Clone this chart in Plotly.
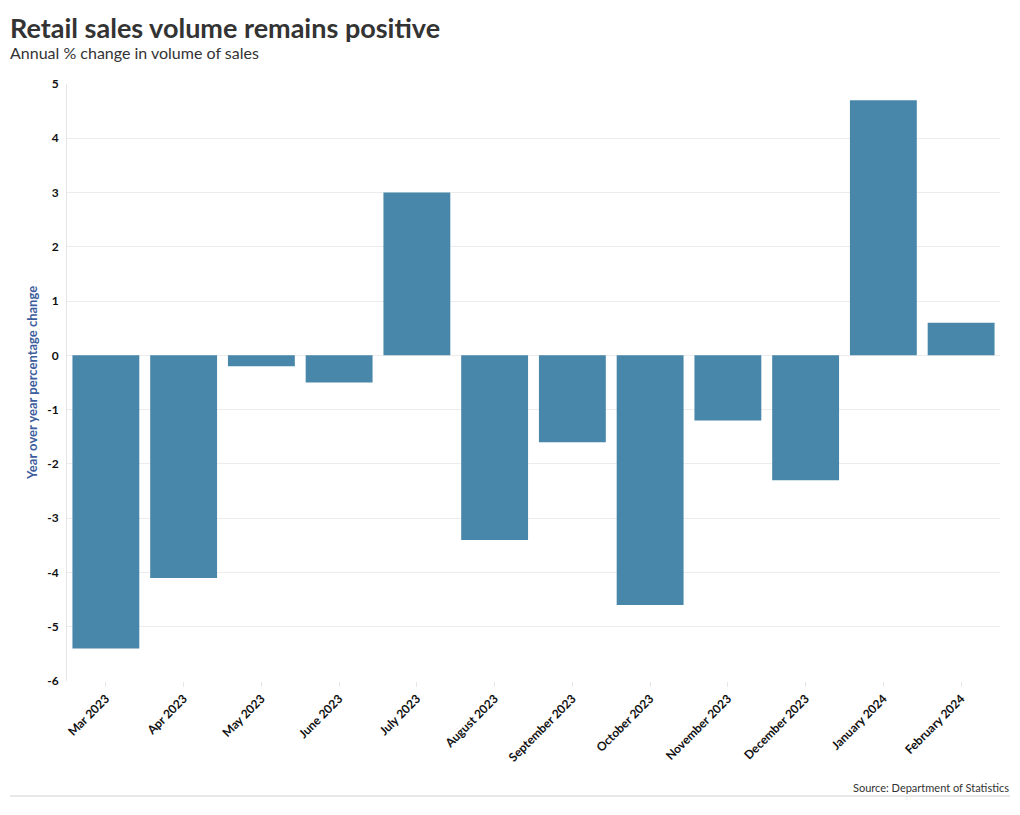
import plotly.graph_objects as go

months = ["Mar 2023", "Apr 2023", "May 2023", "June 2023", "July 2023", "August 2023",
          "September 2023", "October 2023", "November 2023", "December 2023",
          "January 2024", "February 2024"]
values = [-5.4, -4.1, -0.2, -0.5, 3.0, -3.4, -1.6, -4.6, -1.2, -2.3, 4.7, 0.6]
y_ticks = [5, 4, 3, 2, 1, 0, -1, -2, -3, -4, -5, -6]
y_tick_labels = ["5", "4", "3", "2", "1", "0", "-1", "-2", "-3", "-4", "-5", "-6"]

FONT = "Source Sans Pro, Lato, Noto Sans, sans-serif"

fig = go.Figure(go.Bar(
    x=months, y=values,
    marker=dict(color="#4886aa", line=dict(width=0)),
    hovertemplate="%{x}: %{y}<extra></extra>",
))

fig.update_layout(
    width=1020, height=815,
    margin=dict(l=67, r=20, t=84, b=134),
    paper_bgcolor="white", plot_bgcolor="white",
    bargap=0.14,
    showlegend=False,
    font=dict(family=FONT, color="#222"),
    xaxis=dict(
        tickangle=-45,
        tickfont=dict(family=FONT, size=12, color="#111", weight="bold"),
        ticks="outside", ticklen=5, tickcolor="#e6e6e6",
        showgrid=False, showline=False, zeroline=False,
        fixedrange=True,
    ),
    yaxis=dict(
        range=[-6, 5],
        tickvals=y_ticks, ticktext=y_tick_labels,
        tickfont=dict(family=FONT, size=12, color="#111", weight="bold"),
        showgrid=True, gridcolor="#ececec", gridwidth=1,
        zeroline=False, showline=True, linecolor="#e6e6e6", linewidth=1,
        ticks="outside", ticklen=5, tickcolor="rgba(0,0,0,0)",
        title=dict(text="Year over year percentage change",
                   font=dict(family=FONT, size=13, color="#3d5d9c", weight="bold"),
                   standoff=6),
        fixedrange=True,
    ),
    annotations=[
        dict(text="<b>Retail sales volume remains positive</b>", xref="paper", yref="paper",
             x=(8-67)/933, y=1 + (84-28)/597, xanchor="left", yanchor="middle",
             showarrow=False, font=dict(family=FONT, size=27, color="#333")),
        dict(text="Annual % change in volume of sales", xref="paper", yref="paper",
             x=(8-67)/933, y=1 + (84-53)/597, xanchor="left", yanchor="middle",
             showarrow=False, font=dict(family=FONT, size=16, color="#333")),
        dict(text="Source: Department of Statistics", xref="paper", yref="paper",
             x=(1011-67)/933, y=-(787-681)/597, xanchor="right", yanchor="middle",
             showarrow=False, font=dict(family=FONT, size=11, color="#333")),
    ],
    shapes=[
        dict(type="line", xref="paper", yref="paper",
             x0=(10-67)/933, x1=(1010-67)/933, y0=-(796-681)/597, y1=-(796-681)/597,
             line=dict(color="#d0d0d0", width=1)),
    ],
)

fig.write_html("out.html")
